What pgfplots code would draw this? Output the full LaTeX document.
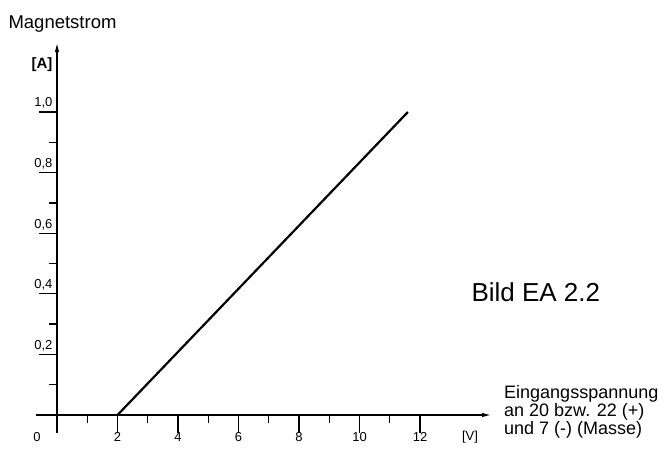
\documentclass[border=0pt]{standalone}
\usepackage{fontspec}
\setmainfont{Liberation Sans}
\usepackage{pgfplots}
\pgfplotsset{compat=1.18}
\usetikzlibrary{arrows.meta}
\begin{document}
\begin{tikzpicture}[x=1bp,y=1bp]
\useasboundingbox (0,0) rectangle (665,-450);
\begin{axis}[
  at={(57bp,-415bp)}, anchor=origin,
  x=30.25bp, y=303bp,
  xmin=-0.69, xmax=14.38, ymin=-0.06, ymax=1.231,
  axis lines=middle,
  clip=false,
  axis line style={line width=1.6bp, -{Latex[length=10bp,width=4.5bp]}},
  hide obscured x ticks=false, hide obscured y ticks=false,
  xtick={2,4,6,8,10,12}, xticklabels={2,4,6,8,10,12},
  minor xtick={1,3,5,7,9,11},
  ytick={0.2,0.4,0.6,0.8,1.0}, yticklabels={{0,2},{0,4},{0,6},{0,8},{1,0}},
  minor ytick={0.1,0.3,0.5,0.7,0.9},
  extra x ticks={0}, extra x tick labels={0},
  extra x tick style={xticklabel style={xshift=-20bp}},
  tick align=outside,
  major tick length=18bp, minor tick length=8bp,
  every tick/.style={black, line width=1.3bp},
  tick label style={font=\fontsize{13bp}{13bp}\selectfont},
  xticklabel style={inner sep=0.5bp, yshift=1bp},
  yticklabel style={anchor=south east, xshift=17bp, yshift=0bp},
]
\addplot[black, line width=2.2bp] coordinates {(2,0) (11.6,1.0)};
\end{axis}
\node[anchor=base west, font=\fontsize{18.5bp}{18.5bp}\selectfont] at (5,-29) {Magnetstrom};
\node[anchor=base west, font=\fontsize{26bp}{26bp}\selectfont] at (468,-302) {Bild EA 2.2};
\node[anchor=north west, align=left, font=\fontsize{18bp}{18bp}\selectfont, inner sep=0pt] at (504,-385) {Eingangsspannung\\an 20 bzw. 22 (+)\\und 7 (-) (Masse)};
\node[anchor=north, font=\fontsize{13bp}{13bp}\selectfont, inner sep=0pt] at (470,-431) {[V]};
\node[font=\fontsize{15bp}{15bp}\selectfont\bfseries] at (42,-65) {[A]};
\end{tikzpicture}
\end{document}
